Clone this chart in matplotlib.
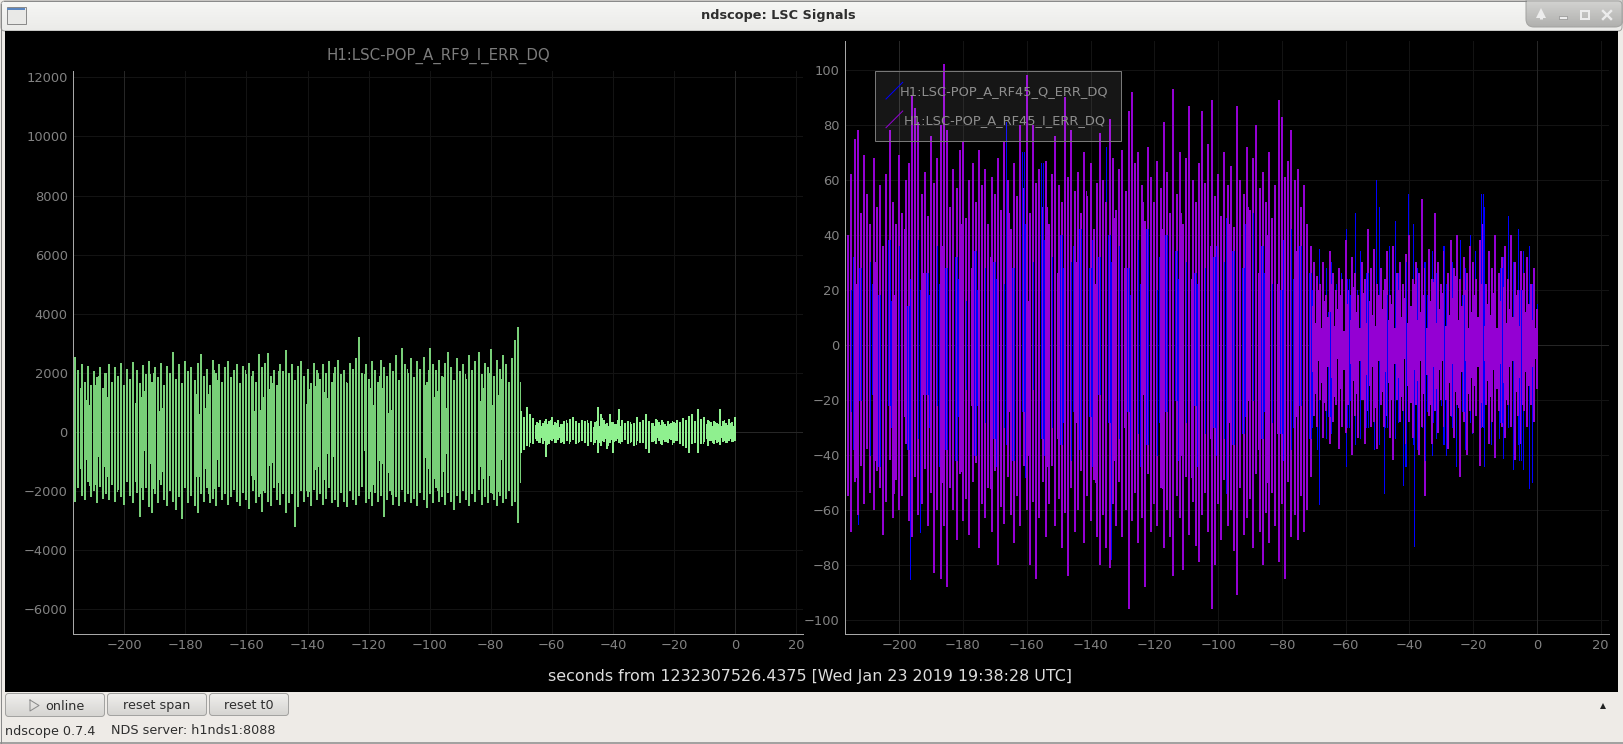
import numpy as np
import matplotlib
matplotlib.use("Agg")
import matplotlib.pyplot as plt
from matplotlib.patches import Rectangle, FancyBboxPatch

W, H = 1623, 744

# one sample per second, t = -216 ... 0
green_hi = [2550,2100,2300,1700,2250,1600,2050,1850,2200,1500,
    2000,2300,1700,2200,1900,2350,1600,2150,1800,2380,
    2100,1650,2280,1950,2400,1700,2200,1850,2350,1600,
    2250,2000,2700,1800,2300,1650,2400,2050,2200,1750,
    2350,2640,1900,2150,1600,2450,2000,2300,1700,2200,
    2400,1850,2100,2300,1650,2250,1950,2350,2050,1700,
    2640,2200,2350,2660,1900,2100,1600,2300,2050,2770,
    2000,2300,1750,2250,2400,1900,2150,1650,2350,2100,
    1800,2300,2000,2400,1700,2200,2450,1950,2100,1650,
    2350,2150,2500,3200,2000,2300,1800,2400,2100,1700,
    2450,2200,1900,2350,2050,2600,1750,2860,2300,2000,
    2500,1850,2400,2150,2550,1700,2830,2300,2100,2450,
    1900,2350,2700,2200,1750,2500,2050,2300,1800,2600,
    2100,2400,2700,1950,2350,2200,2800,1900,2450,2150,
    2600,2300,1700,2500,3110,3540,
    700,500,860,600,480,350,420,300,450,380,
    500,330,400,280,360,300,440,520,380,320,
    420,360,300,380,340,845,600,400,300,620,
    350,280,790,420,300,360,260,310,500,340,
    420,600,360,300,450,340,400,280,360,310,
    330,400,350,480,420,540,600,380,770,450,
    520,400,330,380,300,790,360,300,430,350,500]
green_lo = [-2350,-1900,-2150,-2300,-1700,-2200,-2000,-2400,-1850,-2250,
    -2100,-2300,-1800,-2350,-1950,-2200,-2450,-1700,-2150,-2400,
    -2050,-2860,-2300,-1900,-2550,-2750,-2100,-2400,-1800,-2300,
    -2500,-2000,-2350,-2650,-2200,-2950,-1900,-2400,-2150,-2500,
    -2730,-2100,-2350,-1900,-2400,-2250,-2500,-1850,-2300,-2100,
    -2450,-2200,-1950,-2350,-2500,-2050,-2300,-2600,-2000,-2400,
    -2200,-2690,-2050,-2350,-2500,-1900,-2300,-2450,-2100,-2750,
    -2400,-2100,-3200,-2550,-2000,-2350,-2200,-2500,-1950,-2300,
    -2100,-2450,-2250,-1900,-2400,-2300,-2550,-2050,-2350,-2520,
    -2000,-2300,-2450,-2150,-1850,-2400,-2250,-2500,-2050,-2350,
    -2150,-2880,-2300,-2000,-2450,-2200,-2500,-1950,-2350,-2100,
    -2400,-2250,-2500,-2050,-2300,-2580,-2100,-2400,-1900,-2350,
    -2200,-2470,-2050,-2350,-2630,-2150,-2400,-2000,-2300,-2500,
    -2100,-2350,-1950,-2450,-2200,-2390,-2050,-2300,-2500,-2150,
    -2400,-2250,-2000,-2500,-2350,-3060,
    -700,-600,-480,-380,-420,-300,-360,-400,-845,-420,
    -300,-380,-280,-360,-420,-300,-340,-260,-400,-330,
    -300,-380,-460,-320,-360,-700,-480,-340,-560,-360,
    -700,-300,-380,-340,-280,-420,-320,-460,-300,-380,
    -360,-560,-700,-340,-400,-300,-450,-320,-380,-280,
    -360,-300,-420,-480,-550,-700,-420,-360,-700,-400,
    -340,-480,-300,-400,-360,-440,-320,-380,-300,-340,-300]

# extra samples that close most of the gaps in the large signal
green_fill_hi = [1500,900,1900,1200,700,1700,1000,1400,2000,800,1600,1100,1850,600,1300,
    1750,950,1500,2100,700,1200,1650,1000,1900,850,1450,2000,1150,600,1700,
    1300,1950,900,1500,750,1800,1200,1050,2100,1400,800,1650,1950,1100,1500,900,1800,1350,1700]
green_fill_lo = [-1200,-1800,-800,-1500,-2000,-1000,-1650,-600,-1900,-1300,-750,-1750,-1100,-1500,-2050,
    -900,-1400,-1850,-650,-1600,-1950,-1000,-1350,-800,-1700,-2000,-1150,-700,-1500,-1900,
    -1250,-600,-1750,-1050,-2100,-1400,-850,-1600,-1200,-1950,-700,-1300,-1800,-1000,-1550,-2050,-900,-1450,-1700]
green_fill2_hi = [1800,1100,1600,2000,900,1400,1750,1200,1950,700,1500,1050,1850,1300,800,
    2100,1000,1650,1250,1900,750,1450,2050,1150,1700,950,1550,1350,2000,850,
    1750,1100,1500,1900,650,1300,2150,1000,1600,1200,1850,900,1450,1700,1050,2000,1250,800,1550]
green_fill2_lo = [-1500,-900,-1750,-1150,-2000,-700,-1400,-1850,-1050,-1600,-1300,-2100,-850,-1500,-1200,
    -1900,-1000,-1650,-750,-1450,-2050,-1100,-1700,-1350,-900,-1950,-1250,-1600,-800,-1800,
    -1050,-1500,-2000,-950,-1350,-1700,-1200,-2100,-850,-1550,-1300,-1900,-700,-1650,-1150,-1450,-2000,-1000,-1750]

# in-between samples of the small signal after t = -70
green_core_hi = [420,280,510,340,230,300,190,360,260,410,230,320,180,290,400,210,350,270,190,330,
    240,420,300,170,360,220,470,280,190,340,260,400,210,310,180,350,230,430,280,200,
    370,260,310,190,420,240,330,210,280,390,300,220,410,260,340,480,290,370,220,310,
    260,390,200,340,280,220,410,250,300,190,360]
green_core_lo = [-380,-260,-460,-300,-210,-340,-180,-280,-390,-240,-200,-330,-170,-300,-250,-380,-210,-290,-340,-190,
    -260,-310,-180,-400,-230,-340,-270,-190,-440,-250,-300,-210,-360,-180,-270,-320,-230,-390,-200,-290,
    -340,-220,-300,-260,-180,-370,-240,-310,-200,-420,-270,-230,-350,-190,-410,-300,-240,-330,-210,-370,
    -190,-280,-350,-220,-310,-170,-260,-340,-200,-290,-230]

purple_hi = [40,62,75,78,48,69,55,44,68,50,
    58,36,62,78,52,44,69,48,60,66,
    91,86,81,55,63,47,76,59,68,80,
    102,78,50,64,57,71,74,46,60,66,
    52,71,58,64,44,61,55,68,49,74,
    60,42,66,54,80,57,98,48,80,59,
    64,50,67,44,62,76,58,52,90,61,
    78,56,63,48,70,54,66,42,59,77,
    60,52,82,68,49,64,71,56,85,92,
    66,70,58,45,72,61,52,67,57,81,
    63,48,93,55,70,44,68,87,60,52,
    66,85,59,73,89,54,62,47,70,58,
    65,43,87,60,55,72,49,68,80,57,
    63,52,70,46,58,89,83,61,67,78,
    60,64,50,58,44,36,
    30,25,22,30,18,34,26,20,28,24,
    38,20,32,26,18,30,24,42,28,35,
    22,28,20,34,18,36,26,30,22,33,
    40,24,30,26,53,28,35,24,48,30,
    22,34,26,38,28,40,24,32,26,36,
    30,24,38,44,22,34,28,40,26,32,
    36,24,40,30,20,34,26,32,22,28,13]
purple_lo = [-55,-68,-50,-62,-44,-58,-38,-54,-60,-46,
    -52,-69,-57,-42,-63,-49,-60,-55,-36,-64,
    -70,-48,-62,-58,-45,-66,-54,-83,-60,-85,
    -66,-88,-52,-60,-71,-47,-64,-56,-69,-50,
    -43,-74,-58,-63,-52,-68,-46,-80,-59,-65,
    -48,-62,-72,-55,-66,-44,-60,-80,-57,-85,
    -63,-50,-70,-58,-44,-66,-56,-74,-61,-84,
    -52,-68,-60,-46,-72,-55,-64,-49,-70,-80,
    -62,-74,-81,-58,-66,-50,-70,-60,-96,-64,
    -54,-72,-63,-88,-47,-68,-58,-66,-52,-74,
    -60,-70,-84,-55,-63,-82,-48,-69,-57,-73,
    -79,-62,-54,-68,-96,-80,-58,-71,-49,-66,
    -60,-75,-91,-52,-69,-63,-56,-74,-47,-68,
    -80,-61,-72,-54,-66,-79,-58,-85,-50,-70,
    -62,-71,-55,-68,-60,-48,
    -26,-30,-20,-34,-24,-36,-28,-22,-38,-30,
    -32,-22,-40,-26,-34,-20,-36,-24,-30,-28,
    -38,-22,-30,-26,-34,-42,-20,-28,-24,-36,
    -28,-34,-22,-40,-30,-55,-26,-36,-24,-32,
    -20,-30,-38,-26,-34,-22,-48,-28,-40,-24,
    -32,-26,-44,-30,-22,-36,-28,-41,-24,-30,
    -34,-22,-30,-42,-26,-36,-24,-30,-22,-28,-16]

# extra I samples before t = -70, one per 3 s, in the gaps between the main lines
purple_fill_hi = [38,22,46,30,52,18,42,34,26,50,36,20,44,28,54,32,24,48,40,16,
    36,50,26,44,30,56,22,38,46,28,34,52,20,42,30,48,24,54,36,18,
    44,32,50,26,40,22,46,34,28]
purple_fill_lo = [-30,-48,-20,-42,-34,-54,-26,-44,-18,-38,-50,-28,-46,-22,-36,-52,-32,-24,-48,-40,
    -20,-44,-34,-56,-28,-38,-50,-22,-42,-30,-46,-18,-36,-52,-26,-40,-48,-24,-34,-54,
    -28,-44,-20,-38,-50,-32,-42,-26,-36]

# dense band of the I channel after t = -70, half a second off the main samples
purple_core_hi = [14,8,20,6,16,10,22,7,13,18,5,15,9,21,12,6,19,8,16,11,
    7,18,13,24,9,15,6,20,10,17,8,14,22,9,12,18,6,16,23,8,
    13,19,7,11,17,25,9,14,20,6,12,18,10,22,7,15,11,19,6,16,
    21,8,13,10,18,7,20,12,15,9,6]
purple_core_lo = [-10,-18,-6,-14,-21,-8,-12,-19,-5,-16,-9,-22,-7,-13,-18,-6,-20,-11,-15,-8,
    -23,-6,-17,-10,-14,-20,-7,-12,-19,-5,-15,-21,-9,-13,-6,-18,-11,-22,-8,-16,
    -9,-6,-20,-14,-7,-17,-23,-10,-6,-18,-12,-15,-8,-21,-6,-13,-19,-9,-16,-7,
    -14,-20,-8,-6,-17,-12,-22,-10,-15,-8,-5]

blue_hi = [35,20,32,18,28,40,15,30,22,26,
    18,34,24,38,16,30,36,22,28,14,
    24,30,38,20,42,26,18,32,36,22,
    66,28,38,20,32,24,44,16,30,26,
    34,20,38,28,42,18,30,24,36,22,
    81,40,28,32,18,70,44,24,30,36,
    20,66,38,26,32,64,22,40,28,18,
    30,36,24,42,20,34,28,38,16,32,
    26,72,40,30,20,36,24,44,28,18,
    34,38,22,30,42,26,36,20,32,24,
    40,18,28,34,24,44,30,20,36,26,
    22,38,28,42,18,32,36,24,30,46,
    26,34,20,38,28,44,24,48,32,18,
    36,26,40,22,30,34,20,38,28,42,
    24,30,36,20,34,26,
    20,15,35,18,28,12,30,22,16,26,
    42,24,18,48,20,34,16,26,22,30,
    60,50,24,18,36,20,45,26,16,30,
    55,44,22,28,47,30,18,34,24,26,
    20,36,22,16,30,24,38,18,28,40,
    22,34,30,55,50,24,20,36,18,28,
    32,47,24,30,42,20,34,28,36,22,15]
blue_lo = [-30,-24,-38,-65,-20,-34,-28,-40,-18,-32,
    -44,-26,-36,-22,-30,-42,-16,-34,-28,-38,
    -85,-24,-34,-68,-40,-18,-30,-36,-22,-44,
    -28,-38,-20,-34,-42,-26,-30,-16,-36,-24,
    -40,-22,-32,-28,-38,-18,-34,-44,-26,-30,
    -36,-20,-42,-28,-34,-24,-48,-32,-16,-38,
    -26,-34,-40,-22,-30,-44,-18,-36,-28,-32,
    -42,-24,-30,-38,-20,-34,-26,-44,-32,-18,
    -36,-40,-28,-78,-22,-34,-30,-42,-24,-38,
    -20,-32,-44,-26,-36,-18,-30,-40,-28,-34,
    -24,-38,-30,-20,-42,-54,-28,-34,-36,-22,
    -44,-26,-32,-38,-18,-30,-40,-24,-34,-54,
    -28,-36,-22,-42,-32,-26,-38,-20,-30,-44,
    -34,-24,-40,-28,-36,-18,-32,-42,-26,-38,
    -30,-64,-22,-36,-28,-34,
    -30,-38,-58,-22,-34,-26,-32,-18,-28,-24,
    -44,-30,-20,-36,-26,-34,-18,-30,-24,-38,
    -28,-36,-54,-30,-22,-40,-34,-28,-51,-44,
    -26,-36,-73,-38,-30,-42,-24,-40,-28,-34,
    -22,-36,-40,-26,-30,-44,-34,-24,-38,-28,
    -32,-24,-40,-30,-44,-26,-36,-22,-34,-28,
    -41,-30,-24,-45,-36,-42,-45,-26,-52,-50,-15]

x_ticks = [-200,-180,-160,-140,-120,-100,-80,-60,-40,-20,0,20]
left_yticks = [-6000,-4000,-2000,0,2000,4000,6000,8000,10000,12000]
right_yticks = [-100,-80,-60,-40,-20,0,20,40,60,80,100]

left_title = "H1:LSC-POP_A_RF9_I_ERR_DQ"
q_label = "H1:LSC-POP_A_RF45_Q_ERR_DQ"
i_label = "H1:LSC-POP_A_RF45_I_ERR_DQ"
x_label = "seconds from 1232307526.4375 [Wed Jan 23 2019 19:38:28 UTC]"

t = np.arange(-216, 1)
t_main = t[:146]
t_tail = t[146:]
GREEN = "#8ff08f"
BLUE = "#0000ff"
PURPLE = "#9400d3"
PX = 72 / 100  # one pixel in points

plt.rcParams["font.family"] = ["DejaVu Sans"]
fig = plt.figure(figsize=(W / 100, H / 100), dpi=100, facecolor="#eeebe7")


def axes_px(x0, y0, x1, y1, **kw):
    return fig.add_axes([x0 / W, 1 - y1 / H, (x1 - x0) / W, (y1 - y0) / H], **kw)


# window frame, all in pixel coordinates
bg = fig.add_axes([0, 0, 1, 1], zorder=0)
bg.set_xlim(0, W)
bg.set_ylim(H, 0)
bg.axis("off")


def gradient(x0, y0, x1, y1, top, bottom, rounding=3):
    patch = FancyBboxPatch((x0, y0), x1 - x0, y1 - y0, boxstyle="round,pad=0,rounding_size=%g" % rounding,
                           fc="none", ec="#a3a3a1", lw=1 * PX, zorder=3)
    bg.add_patch(patch)
    cm = matplotlib.colors.LinearSegmentedColormap.from_list("g", [top, bottom])
    im = bg.imshow(np.linspace(0, 1, 32)[:, None], cmap=cm, extent=(x0, x1, y1, y0), aspect="auto", zorder=2)
    im.set_clip_path(patch)


gradient(1, 1, 1622, 31, "#f6f6f4", "#ebebe9", 4)
bg.add_patch(Rectangle((5, 31), 1613, 660.5, fc="black", ec="none", zorder=4))
gradient(1526, -6, 1623, 27, "#dcdcda", "#b0b0ae", 8)
bg.add_patch(Rectangle((6.5, 7), 19, 17, fc="#e9e9e7", ec="#8a8a8a", lw=1 * PX, zorder=5))
bg.add_patch(Rectangle((7, 7.5), 18, 2, fc="#5b86c0", ec="none", zorder=6))
bg.plot([0.5, 0.5], [4, H - 1], color="#8a8a8a", lw=1 * PX, zorder=6)
bg.plot([W - 0.5, W - 0.5], [4, H - 1], color="#8a8a8a", lw=1 * PX, zorder=6)
bg.plot([0, W], [H - 1, H - 1], color="#8a8a8a", lw=1.5 * PX, zorder=6)
bg.plot([4, 1526], [0.5, 0.5], color="#8a8a8a", lw=1 * PX, zorder=6)
bg.text(778, 15, "ndscope: LSC Signals", ha="center", va="center", fontsize=9.3, fontweight="bold",
        color="#2e2e2e", zorder=6)

# window manager buttons
bg.plot([1541, 1541], [13, 19], color="#ececec", lw=3 * PX, zorder=6, solid_capstyle="butt")
bg.plot([1541], [13], marker="^", ms=7, color="#ececec", mew=0, zorder=6)
bg.add_patch(Rectangle((1559, 16), 8, 3, fc="#ececec", ec="#777777", lw=0.5 * PX, zorder=6))
bg.add_patch(Rectangle((1581, 11), 8, 8, fc="none", ec="#ececec", lw=2 * PX, zorder=6))
bg.plot([1603, 1611], [11, 19], color="#ececec", lw=2.4 * PX, zorder=6)
bg.plot([1603, 1611], [19, 11], color="#ececec", lw=2.4 * PX, zorder=6)

# bottom buttons
gradient(5.5, 693.5, 104.5, 716.5, "#f0efed", "#d6d5d2")
gradient(107.5, 693.5, 206.5, 715.5, "#f0efed", "#d6d5d2")
gradient(209.5, 693.5, 288.5, 715.5, "#f0efed", "#d6d5d2")
bg.plot([30, 30, 39, 30], [700, 711, 705.5, 700], color="#8a8a8a", lw=1 * PX, zorder=6)
bg.text(65, 706, "online", ha="center", va="center", fontsize=9.2, color="#2e2e2e", zorder=6)
bg.text(157, 705.5, "reset span", ha="center", va="center", fontsize=9.2, color="#2e2e2e", zorder=6)
bg.text(248.5, 705.5, "reset t0", ha="center", va="center", fontsize=9.2, color="#2e2e2e", zorder=6)
bg.text(5, 731, "ndscope 0.7.4", ha="left", va="center", fontsize=9.2, color="#2e2e2e", zorder=6)
bg.text(111, 731, "NDS server: h1nds1:8088", ha="left", va="center", fontsize=9.2, color="#2e2e2e", zorder=6)
bg.plot([1603], [706], marker="^", ms=5, color="#222222", mew=0, zorder=6)
bg.set_xlim(0, W)
bg.set_ylim(H, 0)

# panels
ax1 = axes_px(73.3, 70.7, 803, 634.3, zorder=2, facecolor="none")
ax2 = axes_px(845.3, 41, 1609, 634.3, zorder=2, facecolor="none")

green_hi = np.array(green_hi)
green_lo = np.array(green_lo)
ax1.vlines(t_main, green_lo[:146], green_hi[:146], color="#78cf78", lw=2 * PX, antialiased=False, zorder=3)
ax1.vlines(t_main[1::3] + 0.5, green_fill_lo, green_fill_hi, color="#78cf78", lw=1 * PX, antialiased=False, zorder=3)
ax1.vlines(t_main[0::3] + 0.5, green_fill2_lo, green_fill2_hi, color="#78cf78", lw=1 * PX, antialiased=False, zorder=3)
ax1.vlines(t_tail, green_lo[146:], green_hi[146:], color=GREEN, lw=2 * PX, antialiased=False, zorder=3)
ax1.vlines(t_tail[:-1] + 0.5, green_core_lo[:-1], green_core_hi[:-1], color=GREEN, lw=1 * PX, antialiased=False, zorder=3)

blue_hi = np.array(blue_hi)
blue_lo = np.array(blue_lo)
purple_hi = np.array(purple_hi)
purple_lo = np.array(purple_lo)
# two of three Q samples sit in the gaps between the I lines
blue_t = t - 0.5 * (t % 3 != 0)
ax2.vlines(blue_t, blue_lo, blue_hi, color=BLUE, lw=1 * PX, antialiased=False, zorder=3, label=q_label)
ax2.vlines(t, purple_lo, purple_hi, color=PURPLE, lw=2 * PX, antialiased=False, zorder=4, label=i_label)
ax2.vlines(t_main[::3] - 0.5, purple_fill_lo, purple_fill_hi, color=PURPLE, lw=1 * PX, antialiased=False, zorder=4)
ax2.vlines(t_tail - 0.5, purple_core_lo, purple_core_hi, color=PURPLE, lw=2 * PX, antialiased=False, zorder=4)
# some Q samples show over the I lines
on_top = ((t < -70) & (t % 3 == 1)) | ((t >= -70) & (t % 6 == 1))
ax2.vlines(t[on_top], blue_lo[on_top], blue_hi[on_top], color=BLUE, lw=1 * PX, antialiased=False, zorder=5)

for ax, yticks, xlim, ylim in [
    (ax1, left_yticks, (-216.7, 22.27), (-6840, 12223)),
    (ax2, right_yticks, (-216.9, 22.6), (-105.2, 110.5)),
]:
    ax.set_facecolor("none")
    ax.set_xticks(x_ticks)
    ax.set_yticks(yticks)
    ax.set_xlim(*xlim)
    ax.set_ylim(*ylim)
    ax.grid(True, color="#131313", lw=1 * PX, zorder=1)
    ax.set_axisbelow(True)
    ax.axvline(-200, color="#262626", lw=1 * PX, zorder=1)
    ax.axvline(0, color="#262626", lw=1 * PX, zorder=1)
    ax.axhline(0, color="#262626", lw=1 * PX, zorder=1)
    ax.tick_params(axis="both", length=0, labelcolor="#828282", labelsize=9.4)
    ax.tick_params(axis="x", pad=3.5)
    ax.tick_params(axis="y", pad=4)
    ax.spines["top"].set_visible(False)
    ax.spines["right"].set_visible(False)
    ax.spines["left"].set_color("#a8a8a8")
    ax.spines["bottom"].set_color("#a8a8a8")
    ax.spines["left"].set_linewidth(1 * PX)
    ax.spines["bottom"].set_linewidth(1 * PX)

ax1.set_title(left_title, color="#7c7c7c", fontsize=10.85, pad=7.5)

# overlay: legend box and the shared x label
fg = fig.add_axes([0, 0, 1, 1], zorder=5, facecolor="none")
fg.set_xlim(0, W)
fg.set_ylim(H, 0)
fg.axis("off")
fg.add_patch(Rectangle((875.3, 71), 245.4, 70.4, fc="#ffffff", alpha=0.09, ec="none"))
fg.add_patch(Rectangle((875.3, 71), 245.4, 70.4, fc="none", ec="#787878", lw=1 * PX))
fg.plot([886, 902.7], [99, 82.3], color=BLUE, lw=1 * PX)
fg.plot([886, 902.7], [127.7, 111], color=PURPLE, lw=1 * PX)
fg.text(900, 91.4, q_label, color="#8e8e8e", fontsize=9.4, ha="left", va="center")
fg.text(904, 120.7, i_label, color="#8e8e8e", fontsize=9.4, ha="left", va="center")
fg.text(810, 676, x_label, color="#dddddd", fontsize=11.44, ha="center", va="center")

fig.savefig("out.png", dpi=100, facecolor=fig.get_facecolor())
